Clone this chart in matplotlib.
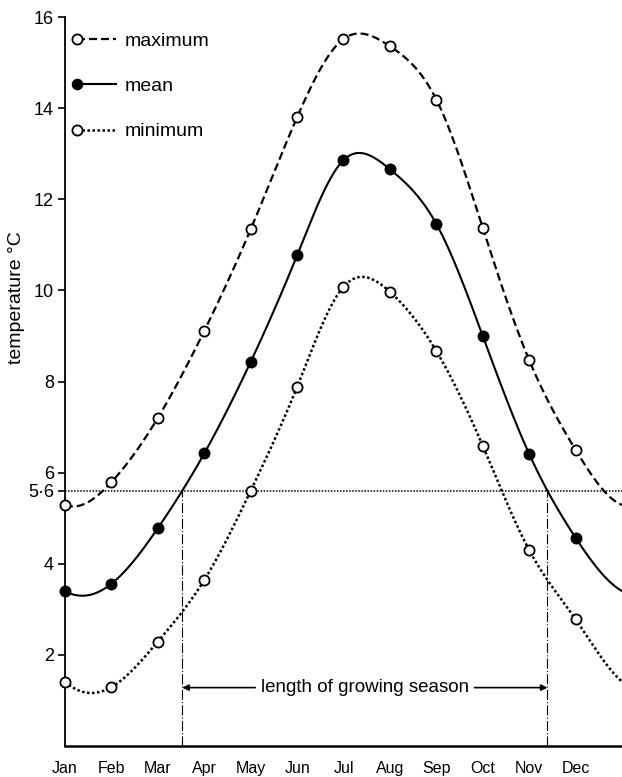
import numpy as np
import matplotlib
matplotlib.use('Agg')
import matplotlib.pyplot as plt
from matplotlib.lines import Line2D
from matplotlib.legend_handler import HandlerLine2D

plt.rcParams['font.family'] = ['Liberation Sans', 'DejaVu Sans']

# monthly temperatures
months = ['Jan', 'Feb', 'Mar', 'Apr', 'May', 'Jun', 'Jul', 'Aug', 'Sep', 'Oct', 'Nov', 'Dec']
t_max = [5.29, 5.79, 7.20, 9.11, 11.34, 13.80, 15.52, 15.36, 14.19, 11.37, 8.47, 6.50]
t_mean = [3.40, 3.56, 4.78, 6.42, 8.43, 10.77, 12.86, 12.66, 11.46, 9.00, 6.41, 4.57]
t_min = [1.41, 1.29, 2.29, 3.64, 5.60, 7.88, 10.08, 9.97, 8.67, 6.59, 4.30, 2.78]
threshold = 5.6
yticks = [2, 4, 6, 8, 10, 12, 14, 16]


def periodic_spline(vals, per=60):
    # closed cubic spline through the monthly values (year wraps round)
    y = np.asarray(vals, float)
    n = len(y)
    A = 4 * np.eye(n)
    for i in range(n):
        A[i, (i - 1) % n] = 1
        A[i, (i + 1) % n] = 1
    M = np.linalg.solve(A, 6 * (np.roll(y, 1) - 2 * y + np.roll(y, -1)))
    t = np.linspace(0, n, n * per + 1)
    i = np.minimum(np.floor(t).astype(int), n - 1)
    u = t - i
    j = (i + 1) % n
    s = (M[i] * (1 - u) ** 3 / 6 + M[j] * u ** 3 / 6
         + (y[i] - M[i] / 6) * (1 - u) + (y[j] - M[j] / 6) * u)
    return t, s


class LeftMarker(HandlerLine2D):
    # marker at the left end of the legend line, not in the middle
    def create_artists(self, *args, **kwargs):
        arts = super().create_artists(*args, **kwargs)
        for a in arts:
            a.set_markevery([0])
        return arts


fig = plt.figure(figsize=(6.22, 7.77), dpi=100)
ax = fig.add_axes([0.1045, 0.040, 0.8955, 0.938])

x = np.arange(len(months))
dash = (0, (3.6, 1.8))
dots = (0, (1, 1))

tx, smax = periodic_spline(t_max)
_, smean = periodic_spline(t_mean)
_, smin = periodic_spline(t_min)

ax.plot(tx, smax, color='black', lw=1.6, linestyle=dash)
ax.plot(tx, smean, color='black', lw=1.5)
ax.plot(tx, smin, color='black', lw=1.8, linestyle=dots)

mk = dict(ms=7.3, mew=1.3, linestyle='none', zorder=5, clip_on=False)
ax.plot(x, t_max, marker='o', mfc='white', mec='black', **mk)
ax.plot(x, t_mean, marker='o', mfc='black', mec='black', **mk)
ax.plot(x, t_min, marker='o', mfc='white', mec='black', **mk)

# threshold line and growing season
ax.axhline(threshold, color='black', lw=1.1, linestyle=dots)
d = smean - threshold
cross = np.where(np.sign(d[:-1]) != np.sign(d[1:]))[0]
xs = [tx[k] - d[k] * (tx[k + 1] - tx[k]) / (d[k + 1] - d[k]) for k in cross]
x_on, x_off = xs[0], xs[-1]
ax.vlines([x_on, x_off], 0, threshold, color='black', lw=0.8,
          linestyles=[(0, (9, 2, 1, 2))])

y_arrow = 1.28
mid = (x_on + x_off) / 2
ap = dict(arrowstyle='-|>', color='black', lw=1.2, mutation_scale=9, shrinkB=0)
ax.annotate('length of growing season', xy=(x_on, y_arrow), xytext=(mid, y_arrow),
            ha='center', va='center', fontsize=13.5, arrowprops=ap)
ax.annotate('length of growing season', xy=(x_off, y_arrow), xytext=(mid, y_arrow),
            ha='center', va='center', fontsize=13.5, color='none', arrowprops=ap)

ax.set_xlim(0, 12)
ax.set_ylim(0, 16)
ax.set_xticks(x)
ax.set_xticklabels(months)
ax.set_yticks(yticks + [threshold])
ax.set_yticklabels([str(v) for v in yticks] + ['5·6'])
ax.tick_params(axis='x', length=0, pad=11, labelsize=11.5)
ax.tick_params(axis='y', length=5, width=1.2, pad=3, labelsize=13, direction='out')

for s in ['top', 'right']:
    ax.spines[s].set_visible(False)
ax.spines['left'].set_linewidth(1.3)
ax.spines['bottom'].set_linewidth(1.8)

ax.set_ylabel('temperature °C', fontsize=14)
ax.yaxis.set_label_coords(-0.072, 0.615)

handles = [
    Line2D([], [], color='black', lw=1.6, linestyle=dash, marker='o', ms=7.3, mfc='white', mec='black', mew=1.3),
    Line2D([], [], color='black', lw=1.5, marker='o', ms=7.3, mfc='black', mec='black'),
    Line2D([], [], color='black', lw=1.8, linestyle=dots, marker='o', ms=7.3, mfc='white', mec='black', mew=1.3),
]
ax.legend(handles, ['maximum', 'mean', 'minimum'], loc='upper left',
          bbox_to_anchor=(-0.01, 1.003), frameon=False, fontsize=14,
          handlelength=2.0, handletextpad=0.45, labelspacing=1.42, numpoints=1,
          handler_map={Line2D: LeftMarker()})

fig.savefig('out.png', dpi=100)
